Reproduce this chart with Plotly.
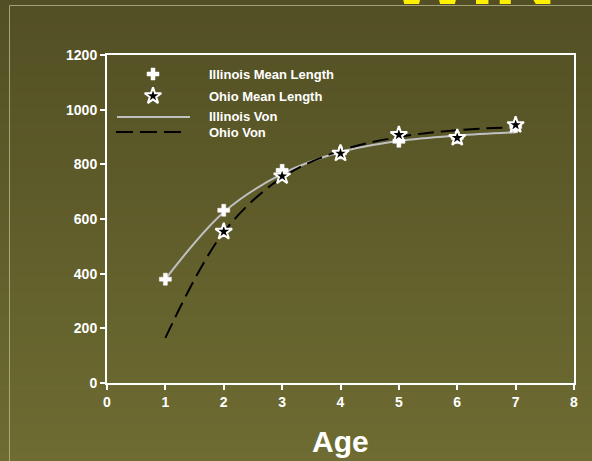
import plotly.graph_objects as go

# ---- data -------------------------------------------------------------
ages = [1, 2, 3, 4, 5, 6, 7]
illinois_mean = [380, 632, 778, 842, 884, 898, 938]
ohio_mean = [None, 554, 757, 840, 908, 897, 944]
illinois_von = [380, 625, 765, 845, 885, 905, 917]
ohio_von = [165, 552, 752, 850, 900, 925, 936]

x_ticks = [0, 1, 2, 3, 4, 5, 6, 7, 8]
y_ticks = [0, 200, 400, 600, 800, 1000, 1200]

legend_labels = ["Illinois Mean Length", "Ohio Mean Length", "Illinois Von", "Ohio Von"]

# ---- geometry (pixels) -------------------------------------------------
W, H = 592, 461
L, R, T, B = 107, 574, 55, 383
PW, PH = R - L, B - T


def px_x(px):
    return (px - L) / PW


def px_y(py):
    return (B - py) / PH


WHITE = "white"
FONT = "Liberation Sans, Arial, sans-serif"
PLUS = dict(symbol="cross", size=10, color=WHITE, line=dict(color=WHITE, width=0.5))
STAR = dict(symbol="star", size=12.5, color="black", line=dict(color=WHITE, width=2))

fig = go.Figure()

# fitted growth curves
fig.add_trace(go.Scatter(
    x=ages, y=illinois_von, mode="lines", name="Illinois Von",
    line=dict(color="rgb(192,192,192)", width=2, shape="spline", smoothing=1.0),
    showlegend=False, hoverinfo="skip"))
fig.add_trace(go.Scatter(
    x=ages, y=ohio_von, mode="lines", name="Ohio Von",
    line=dict(color="black", width=2, dash="16px,7px", shape="spline", smoothing=1.0),
    showlegend=False, hoverinfo="skip"))

# observed mean lengths
fig.add_trace(go.Scatter(
    x=ages, y=illinois_mean, mode="markers", name="Illinois Mean Length",
    marker=PLUS, showlegend=False))
fig.add_trace(go.Scatter(
    x=ages, y=ohio_mean, mode="markers", name="Ohio Mean Length",
    marker=STAR, showlegend=False))

# legend key symbols (overlay axes in plot-fraction units)
fig.add_trace(go.Scatter(
    x=[px_x(153)], y=[px_y(74)], xaxis="x2", yaxis="y2", mode="markers",
    marker=PLUS, showlegend=False, hoverinfo="skip", cliponaxis=False))
fig.add_trace(go.Scatter(
    x=[px_x(153)], y=[px_y(96)], xaxis="x2", yaxis="y2", mode="markers",
    marker=STAR, showlegend=False, hoverinfo="skip", cliponaxis=False))
fig.add_trace(go.Scatter(
    x=[px_x(117), px_x(190)], y=[px_y(117)] * 2, xaxis="x2", yaxis="y2", mode="lines",
    line=dict(color="rgb(192,192,192)", width=2),
    showlegend=False, hoverinfo="skip", cliponaxis=False))
fig.add_trace(go.Scatter(
    x=[px_x(116), px_x(184)], y=[px_y(132)] * 2, xaxis="x2", yaxis="y2", mode="lines",
    line=dict(color="black", width=2, dash="17px,7px"),
    showlegend=False, hoverinfo="skip", cliponaxis=False))

# ---- background: vertical olive gradient --------------------------------
shapes = []
top_rgb = (82, 79, 36)
bot_rgb = (110, 108, 50)
bands = 60
for i in range(bands):
    f = (i + 0.5) / bands
    c = tuple(round(a + (b - a) * f) for a, b in zip(top_rgb, bot_rgb))
    y0 = i * H / bands
    y1 = (i + 1) * H / bands + 0.6
    shapes.append(dict(
        type="rect", xref="paper", yref="paper", layer="below",
        x0=px_x(-2), x1=px_x(W + 2), y0=px_y(y1), y1=px_y(y0),
        fillcolor="rgb(%d,%d,%d)" % c, line=dict(width=0)))

# thin slide frame lines
frame_col = "rgba(190,188,150,0.75)"
shapes.append(dict(type="line", xref="paper", yref="paper", layer="below",
                   x0=px_x(9.5), x1=px_x(W + 2), y0=px_y(5.5), y1=px_y(5.5),
                   line=dict(color=frame_col, width=1)))
shapes.append(dict(type="line", xref="paper", yref="paper", layer="below",
                   x0=px_x(9.5), x1=px_x(9.5), y0=px_y(5.5), y1=px_y(H + 2),
                   line=dict(color=frame_col, width=1)))

# ---- annotations --------------------------------------------------------
annotations = []
legend_rows = [74, 96, 117, 132]
for lab, py in zip(legend_labels, legend_rows):
    annotations.append(dict(
        text="<b>%s</b>" % lab, xref="paper", yref="paper",
        x=px_x(207), y=px_y(py), xanchor="left", yanchor="middle",
        showarrow=False, font=dict(family=FONT, size=13, color=WHITE)))

# x-axis title
annotations.append(dict(
    text="<b>Age</b>", xref="paper", yref="paper",
    x=0.5, y=px_y(441), xanchor="center", yanchor="middle",
    showarrow=False, font=dict(family=FONT, size=30, color=WHITE)))

# slide title, mostly above the visible area
annotations.append(dict(
    text="<b>WIN</b>", xref="paper", yref="paper",
    x=px_x(387), y=px_y(24), xanchor="left", yanchor="bottom",
    showarrow=False, font=dict(family=FONT, size=86, color="rgb(255,240,0)")))

fig.update_layout(
    width=W, height=H,
    margin=dict(l=L, r=W - R, t=T, b=H - B, pad=0, autoexpand=False),
    paper_bgcolor="rgb(96,94,43)",
    plot_bgcolor="rgba(0,0,0,0)",
    shapes=shapes,
    annotations=annotations,
    showlegend=False,
    font=dict(family=FONT, color=WHITE),
    xaxis=dict(
        range=[0, 8], tickvals=x_ticks, ticktext=["<b>%d</b>" % v for v in x_ticks],
        showgrid=False, zeroline=False, automargin=False,
        showline=True, linecolor=WHITE, linewidth=2, mirror=True,
        ticks="outside", ticklen=5, tickwidth=2, tickcolor=WHITE,
        tickfont=dict(family=FONT, size=14, color=WHITE),
    ),
    yaxis=dict(
        range=[0, 1200], tickvals=y_ticks, ticktext=["<b>%d</b>" % v for v in y_ticks],
        showgrid=False, zeroline=False, automargin=False,
        showline=True, linecolor=WHITE, linewidth=2, mirror=True,
        ticks="outside", ticklen=5, tickwidth=2, tickcolor=WHITE,
        tickfont=dict(family=FONT, size=14, color=WHITE),
    ),
    xaxis2=dict(range=[0, 1], overlaying="x", visible=False, fixedrange=True),
    yaxis2=dict(range=[0, 1], overlaying="y", visible=False, fixedrange=True),
)

fig.write_html("out.html")
